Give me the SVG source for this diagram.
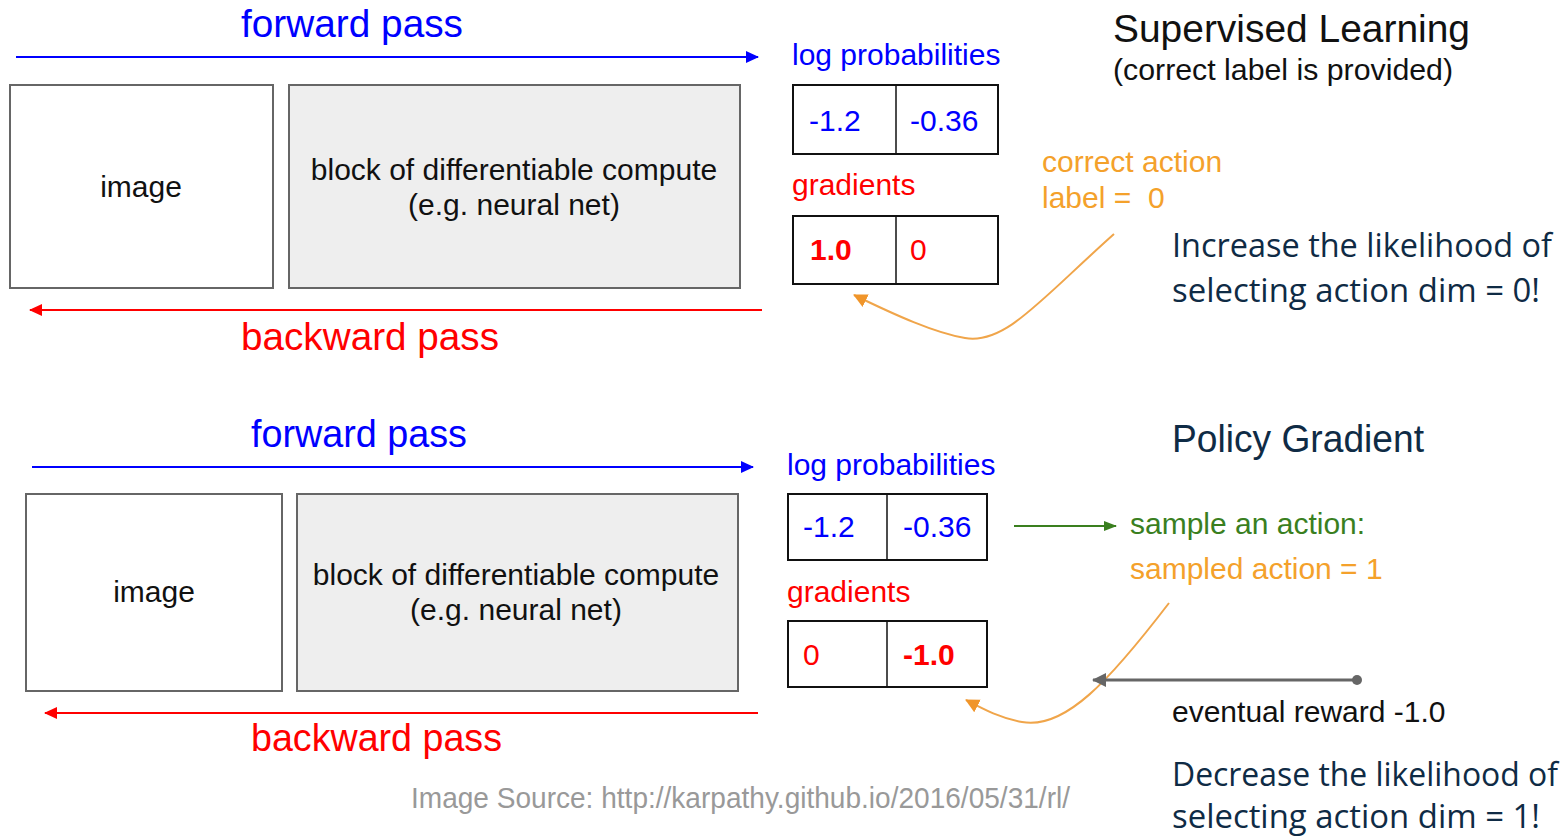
<svg xmlns="http://www.w3.org/2000/svg" width="1567" height="838" viewBox="0 0 1567 838">
<style>
text{font-family:"Liberation Sans",Arial,sans-serif}
.big{font-size:38px}
.med{font-size:30px}
.blue{fill:#0000ff}
.red{fill:#ff0000}
.orange{fill:#f4a12b}
.green{fill:#3a7f1f}
.navy{fill:#0f2b45;font-family:"Open Sans","Noto Sans",sans-serif;font-size:33px}
.blk{fill:#111}
.box{fill:#ffffff;stroke:#666;stroke-width:2}
.gbox{fill:#eeeeee;stroke:#666;stroke-width:2}
.cell{fill:#ffffff;stroke:#111;stroke-width:2}
.div{stroke:#111;stroke-width:1.5}
</style>
<defs>
<marker id="hb" markerWidth="14" markerHeight="14" refX="12" refY="7" orient="auto" markerUnits="userSpaceOnUse"><path d="M0,1 L13,7 L0,13 z" fill="#0000ff"/></marker>
<marker id="hr" markerWidth="14" markerHeight="14" refX="12" refY="7" orient="auto" markerUnits="userSpaceOnUse"><path d="M0,1 L13,7 L0,13 z" fill="#ff0000"/></marker>
<marker id="ho" markerWidth="16" markerHeight="16" refX="13" refY="8" orient="auto" markerUnits="userSpaceOnUse"><path d="M0,1 L14,8 L0,15 z" fill="#f0952a"/></marker>
<marker id="hg" markerWidth="14" markerHeight="14" refX="12" refY="7" orient="auto" markerUnits="userSpaceOnUse"><path d="M0,2 L13,7 L0,12 z" fill="#3a7f1f"/></marker>
<marker id="hgr" markerWidth="16" markerHeight="16" refX="13" refY="8" orient="auto" markerUnits="userSpaceOnUse"><path d="M0,1 L14,8 L0,15 z" fill="#666"/></marker>
</defs>

<g id="connectors">
<line x1="16" y1="57" x2="758" y2="57" stroke="#0000ff" stroke-width="2" marker-end="url(#hb)"/>
<line x1="762" y1="310" x2="30" y2="310" stroke="#ff0000" stroke-width="2" marker-end="url(#hr)"/>
<path d="M1114,234 C1040,300 1005,345 965,338 C935,333 895,315 854,295" fill="none" stroke="#f0a54a" stroke-width="2" marker-end="url(#ho)"/>
<line x1="32" y1="467" x2="753" y2="467" stroke="#0000ff" stroke-width="2" marker-end="url(#hb)"/>
<line x1="758" y1="713" x2="45" y2="713" stroke="#ff0000" stroke-width="2" marker-end="url(#hr)"/>
<line x1="1014" y1="526" x2="1116" y2="526" stroke="#3a7f1f" stroke-width="2" marker-end="url(#hg)"/>
<path d="M1169,603 C1110,680 1065,730 1022,722 C1000,718 985,710 966,700" fill="none" stroke="#f0a54a" stroke-width="2" marker-end="url(#ho)"/>
<line x1="1357" y1="680" x2="1093" y2="680" stroke="#666" stroke-width="3" marker-end="url(#hgr)"/>
<circle cx="1357" cy="680" r="5" fill="#666"/>
</g>

<g id="top-labels">
<text x="241" y="37" class="big blue" textLength="222" lengthAdjust="spacingAndGlyphs">forward pass</text>
<text x="241" y="350" class="big red" textLength="258" lengthAdjust="spacingAndGlyphs">backward pass</text>
</g>
<g id="top-image"><rect x="10" y="85" width="263" height="203" class="box"/><text x="141" y="197" class="med blk" text-anchor="middle">image</text></g>
<g id="top-block"><rect x="289" y="85" width="451" height="203" class="gbox"/><text x="514" y="180" class="med blk" text-anchor="middle">block of differentiable compute</text><text x="514" y="215" class="med blk" text-anchor="middle">(e.g. neural net)</text></g>
<g id="top-logprob"><text x="792" y="65" class="med blue">log probabilities</text><rect x="793" y="85" width="205" height="69" class="cell"/><line x1="896" y1="85" x2="896" y2="154" class="div"/><text x="809" y="131" class="med blue">-1.2</text><text x="910" y="131" class="med blue">-0.36</text></g>
<g id="top-grad"><text x="792" y="195" class="med red">gradients</text><rect x="793" y="216" width="205" height="68" class="cell"/><line x1="896" y1="216" x2="896" y2="284" class="div"/><text x="810" y="260" class="med red" font-weight="bold">1.0</text><text x="910" y="260" class="med red">0</text></g>
<g id="top-label"><text x="1042" y="172" class="med orange">correct action</text><text x="1042" y="208" class="med orange" xml:space="preserve">label =  0</text></g>
<g id="top-title"><text x="1113" y="42" class="big blk" textLength="357" lengthAdjust="spacingAndGlyphs">Supervised Learning</text><text x="1113" y="80" class="med blk" font-size="29" textLength="340" lengthAdjust="spacingAndGlyphs">(correct label is provided)</text></g>
<g id="top-note"><text x="1172" y="257" class="navy" textLength="380" lengthAdjust="spacingAndGlyphs">Increase the likelihood of</text><text x="1172" y="302" class="navy" textLength="368" lengthAdjust="spacingAndGlyphs">selecting action dim = 0!</text></g>

<g id="bot-labels">
<text x="251" y="447" class="big blue" textLength="216" lengthAdjust="spacingAndGlyphs">forward pass</text>
<text x="251" y="751" class="big red" textLength="251" lengthAdjust="spacingAndGlyphs">backward pass</text>
</g>
<g id="bot-image"><rect x="26" y="494" width="256" height="197" class="box"/><text x="154" y="602" class="med blk" text-anchor="middle">image</text></g>
<g id="bot-block"><rect x="297" y="494" width="441" height="197" class="gbox"/><text x="516" y="585" class="med blk" text-anchor="middle">block of differentiable compute</text><text x="516" y="620" class="med blk" text-anchor="middle">(e.g. neural net)</text></g>
<g id="bot-logprob"><text x="787" y="475" class="med blue">log probabilities</text><rect x="788" y="494" width="199" height="66" class="cell"/><line x1="887" y1="494" x2="887" y2="560" class="div"/><text x="803" y="537" class="med blue">-1.2</text><text x="903" y="537" class="med blue">-0.36</text></g>
<g id="bot-grad"><text x="787" y="602" class="med red">gradients</text><rect x="788" y="621" width="199" height="66" class="cell"/><line x1="887" y1="621" x2="887" y2="687" class="div"/><text x="803" y="665" class="med red">0</text><text x="903" y="665" class="med red" font-weight="bold">-1.0</text></g>
<g id="bot-sample"><text x="1130" y="534" class="med green" font-size="29">sample an action:</text><text x="1130" y="579" class="med orange" font-size="29">sampled action = 1</text></g>
<g id="bot-reward"><text x="1172" y="722" class="med blk" font-size="29">eventual reward -1.0</text></g>
<g id="bot-title"><text x="1172" y="452" class="big" fill="#0f2b45" font-size="37" textLength="252" lengthAdjust="spacingAndGlyphs">Policy Gradient</text></g>
<g id="bot-note"><text x="1172" y="786" class="navy" font-size="32" textLength="386" lengthAdjust="spacingAndGlyphs">Decrease the likelihood of</text><text x="1172" y="828" class="navy" font-size="32" textLength="368" lengthAdjust="spacingAndGlyphs">selecting action dim = 1!</text></g>
<g id="source"><text x="411" y="808" class="med" fill="#999" textLength="659" lengthAdjust="spacingAndGlyphs">Image Source: http://karpathy.github.io/2016/05/31/rl/</text></g>
</svg>
